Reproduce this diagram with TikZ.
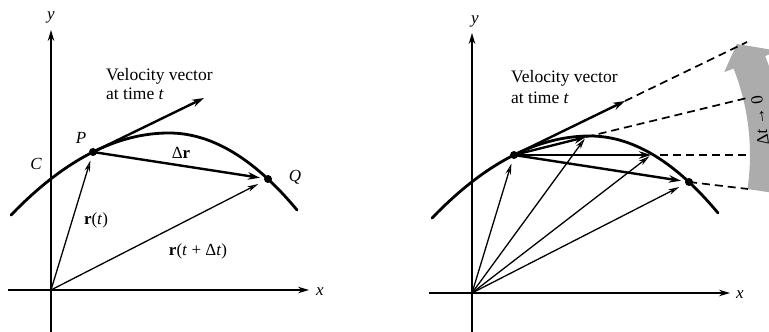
\documentclass[tikz,border=0pt]{standalone}
\usepackage{fontspec}
\setmainfont{Liberation Serif}
\usetikzlibrary{arrows.meta,calc}
\begin{document}
\begin{tikzpicture}[x=1pt,y=1pt,
  axis/.style={line width=1.3pt,-{Stealth[length=11pt,width=6.5pt]}},
  curvestyle/.style={line width=2.8pt},
  thickvec/.style={line width=2.4pt,-{Stealth[length=12pt,width=7.5pt]}},
  thinvec/.style={line width=1.3pt,-{Stealth[open,length=11pt,width=5.5pt,line width=1pt]}},
  dashline/.style={line width=1.7pt,dash pattern=on 8pt off 5pt},
  dot/.style={circle,fill=black,inner sep=0pt,minimum size=8pt},
  lbl/.style={font=\fontsize{17}{19}\selectfont,inner sep=0pt},
  vlbl/.style={font=\fontsize{17.5}{19}\selectfont,inner sep=0pt,anchor=base west}
]
\useasboundingbox (0,0) rectangle (769,332);
\clip (0,0) rectangle (769,332);
\fill[white] (0,0) rectangle (769,332);

% ---------------- left diagram ----------------
\begin{scope}[shift={(51,42)}]
  \coordinate (LO) at (0,0);
  \coordinate (LxS) at (-43,0);
  \coordinate (LxE) at (258,0);
  \coordinate (LyS) at (0,-46);
  \coordinate (LyE) at (0,260);
  \draw[axis] (LxS) -- (LxE);
  \draw[axis] (LyS) -- (LyE);
  \node[lbl] (Lx) at (269,-2) {\textit{x}};
  \node[lbl] (Ly) at (0,273) {\textit{y}};
  \draw[curvestyle,line cap=round]
    plot[domain=-40:118,samples=50] (\x,{157-((\x-118)*0.05736)^2})
    -- plot[domain=118:246,samples=50] (\x,{157-((\x-118)*0.06856)^2});
  \node[dot] (LP) at (42,138) {};
  \node[dot] (LQ) at (217,111) {};
  \coordinate (LV) at (153,192);
  \draw[thickvec] (LP.center) -- (LV);
  \draw[thickvec,shorten >=4pt] (LP.center) -- (LQ);
  \draw[thinvec,shorten >=9pt] (LO) -- (LP.center);
  \draw[thinvec,shorten >=11pt] (LO) -- (LQ.center);
  \node[lbl] (LPl) at (30,152) {\textit{P}};
  \node[lbl] (LCl) at (-15,126) {\textit{C}};
  \node[lbl] (LQl) at (244,113) {\textit{Q}};
  \node[lbl] (LDr) at (130,137) {Δ\textbf{r}};
  \node[lbl] (Lrt) at (45,70) {\textbf{r}(\textit{t})};
  \node[lbl] (Lrtd) at (147,39) {\textbf{r}(\textit{t} + Δ\textit{t})};
  \node[vlbl] (Lv1) at (55,209) {Velocity vector};
  \node[vlbl] (Lv2) at (55,190) {at time \textit{t}};
\end{scope}

% ---------------- right diagram ----------------
\begin{scope}[shift={(472,39)}]
  \coordinate (RO) at (0,0);
  \coordinate (RP0) at (42,138);
  % grey curved arrow
  \fill[gray!65] ($(RP0)+(-8.3:236)$) arc[start angle=-8.3,end angle=21.5,radius=236]
     -- ($(RP0)+(21.5:226)$) -- ($(RP0)+(26.5:249)$) -- ($(RP0)+(21.5:284)$)
     -- ($(RP0)+(21.5:270)$) arc[start angle=21.5,end angle=-8.3,radius=270] -- cycle;
  \node[font=\fontsize{17}{19}\selectfont,inner sep=0pt,anchor=base,rotate=98]
     (Rtxt) at ($(RP0)+(8:254)$) {Δ\textit{t} → 0};

  \coordinate (RxS) at (-43,0);
  \coordinate (RxE) at (258,0);
  \coordinate (RyS) at (0,-46);
  \coordinate (RyE) at (0,260);
  \draw[axis] (RxS) -- (RxE);
  \draw[axis] (RyS) -- (RyE);
  \node[lbl] (Rx) at (268,-2) {\textit{x}};
  \node[lbl] (Ry) at (3,272) {\textit{y}};
  \draw[curvestyle,line cap=round]
    plot[domain=-40:118,samples=50] (\x,{157-((\x-118)*0.05736)^2})
    -- plot[domain=118:246,samples=50] (\x,{157-((\x-118)*0.06856)^2});
  \node[dot] (RP) at (42,138) {};
  \node[dot] (RQ) at (217,111) {};
  \coordinate (RA) at (114,156);
  \coordinate (RB) at (179,138);
  \coordinate (RV) at (153,192);
  \coordinate (RD1) at (275,251);
  \coordinate (RD2) at (275,195);
  \coordinate (RD3) at (276,138);
  \coordinate (RD4) at (276,104);
  \coordinate (RB2) at (188,138);
  % dashed extensions
  \draw[dashline] (RV) -- (RD1);
  \draw[dashline] (RA) -- (RD2);
  \draw[dashline] (RB2) -- (RD3);
  \draw[dashline] (RQ.center) -- (RD4);
  % thick secant vectors
  \draw[thickvec] (RP.center) -- (RV);
  \draw[thickvec] (RP.center) -- (RA);
  \draw[thickvec] (RP.center) -- (RB);
  \draw[thickvec,shorten >=4pt] (RP.center) -- (RQ);
  % position vectors
  \draw[thinvec,shorten >=9pt] (RO) -- (RP.center);
  \draw[thinvec,shorten >=2pt] (RO) -- (RA);
  \draw[thinvec,shorten >=2pt] (RO) -- (RB);
  \draw[thinvec,shorten >=11pt] (RO) -- (RQ.center);
  \node[vlbl] (Rv1) at (39,210) {Velocity vector};
  \node[vlbl] (Rv2) at (39,189) {at time \textit{t}};
\end{scope}
\end{tikzpicture}
\end{document}
